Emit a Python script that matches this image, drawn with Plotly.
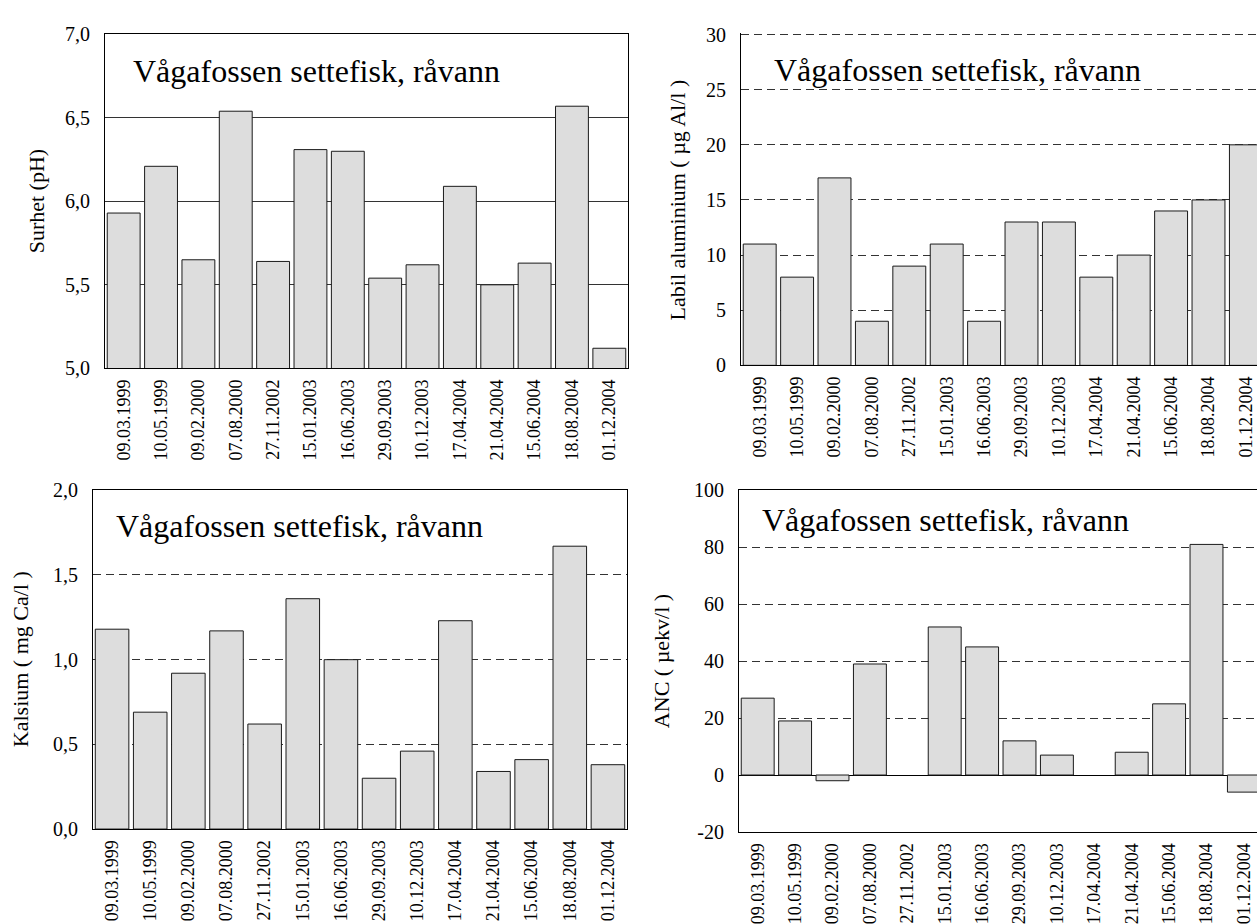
import plotly.graph_objects as go

# ---------------- data ----------------
dates = ["09.03.1999", "10.05.1999", "09.02.2000", "07.08.2000", "27.11.2002",
         "15.01.2003", "16.06.2003", "29.09.2003", "10.12.2003", "17.04.2004",
         "21.04.2004", "15.06.2004", "18.08.2004", "01.12.2004"]

ph = [5.93, 6.21, 5.65, 6.54, 5.64, 6.31, 6.30, 5.54, 5.62, 6.09, 5.50, 5.63, 6.57, 5.12]
labil_al = [11, 8, 17, 4, 9, 11, 4, 13, 13, 8, 10, 14, 15, 20]
kalsium = [1.18, 0.69, 0.92, 1.17, 0.62, 1.36, 1.00, 0.30, 0.46, 1.23, 0.34, 0.41, 1.67, 0.38]
anc = [27, 19, -2, 39, None, 52, 45, 12, 7, None, 8, 25, 81, -6]

ph_tickvals = [5.0, 5.5, 6.0, 6.5, 7.0]
ph_ticktext = ["5,0", "5,5", "6,0", "6,5", "7,0"]
al_tickvals = [0, 5, 10, 15, 20, 25, 30]
al_ticktext = ["0", "5", "10", "15", "20", "25", "30"]
ca_tickvals = [0.0, 0.5, 1.0, 1.5, 2.0]
ca_ticktext = ["0,0", "0,5", "1,0", "1,5", "2,0"]
anc_tickvals = [-20, 0, 20, 40, 60, 80, 100]
anc_ticktext = ["-20", "0", "20", "40", "60", "80", "100"]

panel_title = "Vågafossen settefisk, råvann"
y_titles = ["Surhet (pH)", "Labil aluminium ( µg Al/l )", "Kalsium ( mg Ca/l )", "ANC ( µekv/l )"]

# ---------------- layout helpers ----------------
W, H = 1257, 924
FONT = "Liberation Serif"
BAR_FILL = "#dddddd"
BAR_LINE = "#1a1a1a"


def px(x):
    return x / W


def py(y):
    return 1 - y / H


fig = go.Figure()

series = [ph, labil_al, kalsium, anc]
axis_ids = ["", "2", "3", "4"]
for vals, aid in zip(series, axis_ids):
    fig.add_trace(go.Bar(
        x=dates, y=vals,
        xaxis="x" + aid, yaxis="y" + aid,
        marker=dict(color=BAR_FILL, line=dict(color=BAR_LINE, width=1)),
        showlegend=False, hoverinfo="x+y",
    ))

xtick_font = dict(family=FONT, size=18, color="black")
ytick_font = dict(family=FONT, size=20, color="black")

common_x = dict(type="category", tickangle=-90, tickfont=xtick_font,
                ticks="outside", ticklen=3, tickcolor="rgba(0,0,0,0)",
                showgrid=False, zeroline=False, showline=True,
                linecolor="black", linewidth=1, fixedrange=True)
common_y = dict(tickfont=ytick_font, ticks="outside", ticklen=10,
                tickcolor="rgba(0,0,0,0)", showline=True, linecolor="black",
                linewidth=1, fixedrange=True)

layout = dict(
    width=W, height=H,
    margin=dict(l=0, r=0, t=0, b=0),
    paper_bgcolor="white", plot_bgcolor="white",
    bargap=0.12,
    showlegend=False,
    font=dict(family=FONT, color="black"),
    # top-left: pH
    xaxis=dict(common_x, domain=[px(105), px(628)], anchor="y",
               range=[-0.5, 13.5], mirror=True),
    yaxis=dict(common_y, domain=[py(366), py(24)], anchor="x",
               range=[5, 7], tickvals=ph_tickvals, ticktext=ph_ticktext,
               showgrid=True, gridcolor="#333333", gridwidth=1,
               zeroline=False, mirror=True),
    # top-right: labile aluminium (top gridline at 30 kept visible)
    xaxis2=dict(common_x, domain=[px(741), 1.0], anchor="y2",
                range=[-0.5, -0.5 + (W - 741) / 37.4], mirror=False),
    yaxis2=dict(common_y, domain=[py(363), py(23)], anchor="x2",
                range=[0, 30.1], tickvals=al_tickvals, ticktext=al_ticktext,
                showgrid=True, gridcolor="#333333", gridwidth=1,
                griddash="8px,5px", zeroline=False, mirror=False),
    # bottom-left: calcium
    xaxis3=dict(common_x, domain=[px(93), px(627)], anchor="y3",
                range=[-0.5, 13.5], mirror=True),
    yaxis3=dict(common_y, domain=[py(838), py(491)], anchor="x3",
                range=[0, 2], tickvals=ca_tickvals, ticktext=ca_ticktext,
                showgrid=True, gridcolor="#333333", gridwidth=1,
                griddash="8px,5px", zeroline=False, mirror=True),
    # bottom-right: ANC
    xaxis4=dict(common_x, domain=[px(739), 1.0], anchor="y4",
                range=[-0.5, -0.5 + (W - 739) / 37.4], mirror=True),
    yaxis4=dict(common_y, domain=[py(841), py(491)], anchor="x4",
                range=[-20, 100], tickvals=anc_tickvals, ticktext=anc_ticktext,
                showgrid=True, gridcolor="#333333", gridwidth=1,
                griddash="8px,5px", zeroline=True, zerolinecolor="black",
                zerolinewidth=1, mirror=False),
)
fig.update_layout(**layout)

# panel titles inside each plot
title_pos = [(131, 61), (772, 60), (114, 528), (760, 521)]
for (tx, ty) in title_pos:
    fig.add_annotation(text=panel_title, xref="paper", yref="paper",
                       x=px(tx), y=py(ty), xanchor="left", yanchor="middle",
                       showarrow=False,
                       font=dict(family=FONT, size=32, color="black"))

# y-axis titles
ytitle_pos = [(36, 195), (677, 194), (20, 664), (661, 666)]
for t, (tx, ty) in zip(y_titles, ytitle_pos):
    fig.add_annotation(text=t, xref="paper", yref="paper",
                       x=px(tx), y=py(ty), xanchor="center", yanchor="middle",
                       textangle=-90, showarrow=False,
                       font=dict(family=FONT, size=22, color="black"))

fig.write_html("out.html")
